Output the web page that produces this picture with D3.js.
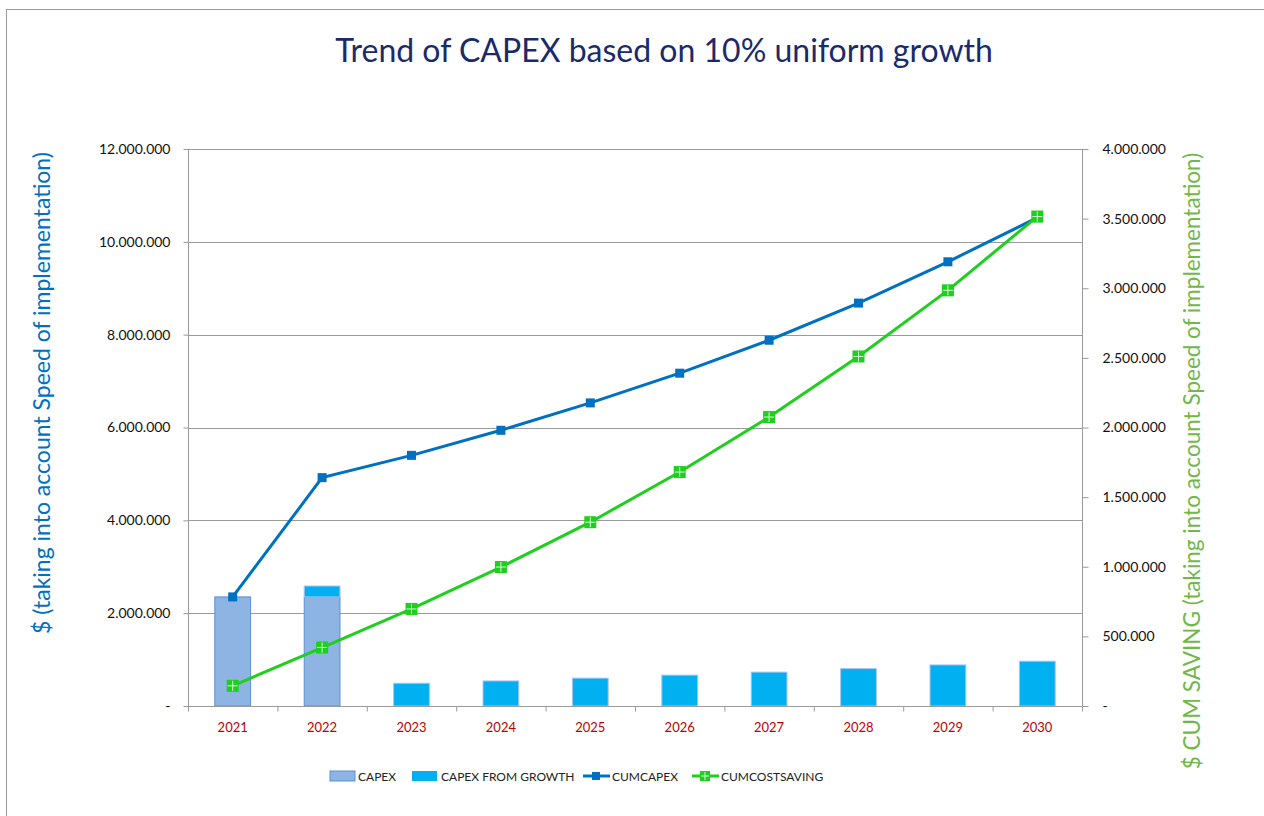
<!DOCTYPE html>
<html><head><meta charset="utf-8">
<script src="https://cdn.jsdelivr.net/npm/d3@7"></script>
<style>body{margin:0;background:#fff}svg{display:block}text{font-family:Lato,"Open Sans",sans-serif}</style>
</head><body><svg id="c" width="1264" height="816"></svg>
<script>
const years = ["2021","2022","2023","2024","2025","2026","2027","2028","2029","2030"];
const capex = [2350000,2350000,0,0,0,0,0,0,0,0];
const capexGrowth = [0,235000,490000,540000,600000,665000,730000,805000,885000,965000];
const cumCapex = [2350000,4920000,5400000,5940000,6530000,7170000,7880000,8680000,9570000,10520000];
const cumSaving = [145000,420000,697000,998000,1320000,1680000,2075000,2510000,2985000,3515000];
const leftTicks = [0,2000000,4000000,6000000,8000000,10000000,12000000];
const rightTicks = [0,500000,1000000,1500000,2000000,2500000,3000000,3500000,4000000];

const svg = d3.select("#c");
const L=188,R=1082,T=149,B=706;
const fmt = v => v===0 ? "-" : d3.format(",")(v).replace(/,/g,".");
const x = d3.scaleBand().domain(years).range([L,R]);
const yL = d3.scaleLinear().domain([0,12000000]).range([B,T]);
const yR = d3.scaleLinear().domain([0,4000000]).range([B,T]);

svg.append("rect").attr("x",6.5).attr("y",9.5).attr("width",1275).attr("height",820)
  .attr("fill","none").attr("stroke","#999").attr("stroke-width",1);

svg.append("text").attr("x",664).attr("y",62).attr("text-anchor","middle")
  .attr("font-size",32).attr("fill","#1a2a6c").text("Trend of CAPEX based on 10% uniform growth");

// gridlines
svg.append("g").selectAll("line").data(leftTicks.slice(1)).join("line")
  .attr("x1",L).attr("x2",R).attr("y1",d=>Math.round(yL(d))+0.5).attr("y2",d=>Math.round(yL(d))+0.5)
  .attr("stroke","#9a9a9a").attr("stroke-width",1);

// left axis
const gl = svg.append("g").attr("transform",`translate(${L+0.5},0)`)
  .call(d3.axisLeft(yL).tickValues(leftTicks).tickFormat(fmt).tickSize(5).tickPadding(13));
gl.select(".domain").attr("stroke","#9a9a9a").attr("d",`M0,${T}V${B}`);
gl.selectAll(".tick line").attr("stroke","#9a9a9a");
gl.selectAll("text").attr("font-size",14).attr("fill","#111");

// right axis
const gr = svg.append("g").attr("transform",`translate(${R+0.5},0)`)
  .call(d3.axisRight(yR).tickValues(rightTicks).tickFormat(fmt).tickSize(6).tickPadding(14));
gr.select(".domain").attr("stroke","#9a9a9a").attr("d",`M0,${T}V${B}`);
gr.selectAll(".tick line").attr("stroke","#9a9a9a");
gr.selectAll("text").attr("font-size",14).attr("fill","#111");

// bars
const bw = x.bandwidth()*0.4;
const bars = svg.append("g");
bars.selectAll(".cap").data(years).join("rect")
  .attr("x",d=>x(d)+(x.bandwidth()-bw)/2).attr("width",bw)
  .attr("y",(d,i)=>yL(capex[i])).attr("height",(d,i)=>yL(0)-yL(capex[i]))
  .attr("fill","#8eb4e3").attr("stroke","#5b8fd6").attr("stroke-width",1)
  .style("display",(d,i)=>capex[i]?null:"none");
bars.selectAll(".gro").data(years).join("rect")
  .attr("x",d=>x(d)+(x.bandwidth()-bw)/2).attr("width",bw)
  .attr("y",(d,i)=>yL(capex[i]+capexGrowth[i])).attr("height",(d,i)=>yL(0)-yL(capexGrowth[i]))
  .attr("fill","#00b0f0").attr("stroke","#a9c4f0").attr("stroke-width",1)
  .style("display",(d,i)=>capexGrowth[i]?null:"none");

// x axis
const gx = svg.append("g").attr("transform",`translate(0,${B+0.5})`);
gx.append("line").attr("x1",L).attr("x2",R).attr("stroke","#9a9a9a");
gx.selectAll(".t").data(years.concat(["end"])).join("line")
  .attr("x1",(d,i)=>L+i*x.step()+0.5).attr("x2",(d,i)=>L+i*x.step()+0.5).attr("y1",0).attr("y2",5)
  .attr("stroke","#9a9a9a");
gx.selectAll("text").data(years).join("text")
  .attr("x",d=>x(d)+x.bandwidth()/2).attr("y",25).attr("text-anchor","middle")
  .attr("font-size",13).attr("fill","#c00000").text(d=>d);

// lines
const cx = d=>x(d)+x.bandwidth()/2;
svg.append("path").datum(years).attr("fill","none").attr("stroke","#0070c0").attr("stroke-width",3)
  .attr("d",d3.line().x(cx).y((d,i)=>yL(cumCapex[i])));
svg.append("g").selectAll("rect").data(years).join("rect")
  .attr("x",d=>cx(d)-4.5).attr("y",(d,i)=>yL(cumCapex[i])-4.5).attr("width",9).attr("height",9)
  .attr("fill","#0070c0");

svg.append("path").datum(years).attr("fill","none").attr("stroke","#1ecf1e").attr("stroke-width",3)
  .attr("d",d3.line().x(cx).y((d,i)=>yR(cumSaving[i])));
const gm = svg.append("g").selectAll("g").data(years).join("g")
  .attr("transform",(d,i)=>`translate(${cx(d)},${yR(cumSaving[i])})`);
gm.append("rect").attr("x",-6).attr("y",-6).attr("width",12).attr("height",12).attr("fill","#1ecf1e");
gm.append("path").attr("d","M0,-5V5M-5,0H5").attr("stroke","#d8f8d8").attr("stroke-width",1);

// axis titles
svg.append("text").attr("transform","translate(50,393) rotate(-90)").attr("text-anchor","middle")
  .attr("font-size",23).attr("fill","#0070c0").text("$ (taking into account Speed of implementation)");
svg.append("text").attr("transform","translate(1200,461) rotate(-90)").attr("text-anchor","middle")
  .attr("font-size",22.5).attr("fill","#70b84a").text("$ CUM SAVING (taking into account Speed of implementation)");

// legend
const lg = svg.append("g").attr("font-size",12);
lg.append("rect").attr("x",330).attr("y",771).attr("width",25).attr("height",10).attr("fill","#8eb4e3").attr("stroke","#5b8fd6");
lg.append("text").attr("x",358).attr("y",781).attr("fill","#222").text("CAPEX");
lg.append("rect").attr("x",412).attr("y",771).attr("width",25).attr("height",10).attr("fill","#00b0f0");
lg.append("text").attr("x",441).attr("y",781).attr("fill","#222").text("CAPEX FROM GROWTH");
lg.append("line").attr("x1",583).attr("x2",610).attr("y1",776).attr("y2",776).attr("stroke","#0070c0").attr("stroke-width",3);
lg.append("rect").attr("x",592).attr("y",772).attr("width",8).attr("height",8).attr("fill","#0070c0");
lg.append("text").attr("x",612).attr("y",781).attr("fill","#222").text("CUMCAPEX");
lg.append("line").attr("x1",692).attr("x2",719).attr("y1",776).attr("y2",776).attr("stroke","#1ecf1e").attr("stroke-width",3);
lg.append("rect").attr("x",700).attr("y",771).attr("width",10).attr("height",10).attr("fill","#1ecf1e");
lg.append("path").attr("d","M705,772V780M701,776H709").attr("stroke","#d8f8d8").attr("stroke-width",1);
lg.append("text").attr("x",721).attr("y",781).attr("fill","#222").text("CUMCOSTSAVING");
</script></body></html>
